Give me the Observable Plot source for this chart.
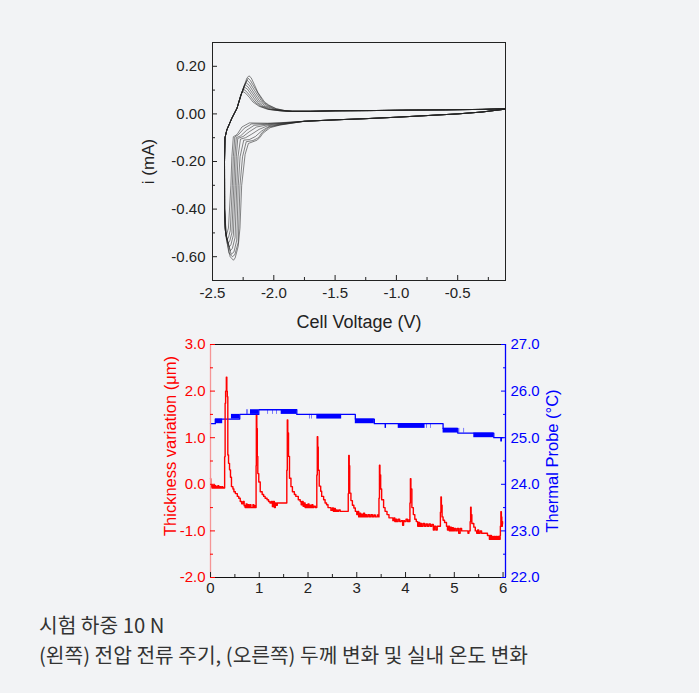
<!DOCTYPE html>
<html>
<head>
<meta charset="utf-8">
<script src="https://cdn.jsdelivr.net/npm/d3@7"></script>
<script src="https://cdn.jsdelivr.net/npm/@observablehq/plot@0.6"></script>
<style>
  html, body { margin: 0; padding: 0; background: #ffffff; }
  #page { position: relative; width: 699px; height: 693px; background: #f2f3f5; overflow: hidden; }
  #cv, #thick { position: absolute; left: 0; }
  #cv { top: 0; }
  #thick { top: 250px; }
  #caption { position: absolute; left: 39px; top: 609px; font-family: "Noto Sans CJK KR", "Noto Sans", sans-serif; font-size: 20.3px; line-height: 30px; color: #333; }
</style>
</head>
<body>
<div id="page">
  <div id="cv"></div>
  <div id="thick"></div>
  <div id="caption"><div>시험 하중 10 N</div><div>(왼쪽) 전압 전류 주기, (오른쪽) 두께 변화 및 실내 온도 변화</div></div>
</div>
<script>
// ---------------- Top panel: cyclic voltammetry (V, mA) ----------------
const cvXTicks = [-2.5, -2.0, -1.5, -1.0, -0.5];
const cvXMinor = [-2.25, -1.75, -1.25, -0.75, -0.25];
const cvYTicks = [0.2, 0.0, -0.2, -0.4, -0.6];
const cvYMinor = [0.1, -0.1, -0.3, -0.5];

// shared right-hand branches
const cvLowerRight = [[-0.11,0.02],[-0.3,0.008],[-0.5,0.0],[-0.75,-0.007],[-1.0,-0.014],[-1.25,-0.02],[-1.5,-0.025],[-1.75,-0.031]];
const cvUpperRight = [[-1.85,0.011],[-1.7,0.011],[-1.5,0.013],[-1.2,0.014],[-0.9,0.016],[-0.6,0.017],[-0.3,0.019],[-0.11,0.022]];
const cvReturn = [[-2.401,-0.40],[-2.402,-0.2],[-2.398,-0.1],[-2.383,-0.067],[-2.342,-0.018],[-2.30,0.024]];

// cathodic part of each cycle (inner -> outer)
const cvDown = [
  [[-1.95,-0.037],[-2.05,-0.039],[-2.2,-0.038],[-2.26,-0.055],[-2.30,-0.087],[-2.33,-0.096],[-2.342,-0.18],[-2.35,-0.3],[-2.37,-0.48],[-2.39,-0.515],[-2.40,-0.46]],
  [[-1.95,-0.038],[-2.05,-0.041],[-2.18,-0.042],[-2.24,-0.06],[-2.29,-0.088],[-2.318,-0.097],[-2.33,-0.18],[-2.338,-0.3],[-2.355,-0.49],[-2.37,-0.52],[-2.385,-0.53],[-2.40,-0.47]],
  [[-1.95,-0.04],[-2.05,-0.043],[-2.16,-0.048],[-2.22,-0.068],[-2.27,-0.092],[-2.306,-0.1],[-2.318,-0.18],[-2.326,-0.3],[-2.342,-0.5],[-2.36,-0.535],[-2.375,-0.545],[-2.398,-0.48]],
  [[-1.95,-0.041],[-2.05,-0.046],[-2.14,-0.055],[-2.2,-0.075],[-2.25,-0.095],[-2.294,-0.103],[-2.306,-0.18],[-2.314,-0.3],[-2.33,-0.51],[-2.35,-0.55],[-2.365,-0.56],[-2.396,-0.49]],
  [[-1.95,-0.043],[-2.05,-0.05],[-2.12,-0.065],[-2.18,-0.085],[-2.23,-0.1],[-2.272,-0.106],[-2.292,-0.18],[-2.302,-0.3],[-2.316,-0.52],[-2.338,-0.565],[-2.355,-0.575],[-2.393,-0.5]],
  [[-1.95,-0.045],[-2.04,-0.053],[-2.1,-0.072],[-2.15,-0.095],[-2.2,-0.108],[-2.245,-0.11],[-2.275,-0.18],[-2.29,-0.3],[-2.302,-0.53],[-2.325,-0.58],[-2.348,-0.59],[-2.39,-0.51]],
  [[-1.95,-0.046],[-2.04,-0.056],[-2.095,-0.078],[-2.125,-0.1],[-2.17,-0.112],[-2.225,-0.117],[-2.255,-0.18],[-2.276,-0.3],[-2.29,-0.54],[-2.318,-0.592],[-2.338,-0.60],[-2.366,-0.585],[-2.388,-0.52]],
  [[-1.95,-0.047],[-2.03,-0.058],[-2.09,-0.082],[-2.11,-0.097],[-2.135,-0.11],[-2.17,-0.117],[-2.207,-0.124],[-2.234,-0.17],[-2.262,-0.3],[-2.276,-0.48],[-2.29,-0.556],[-2.315,-0.605],[-2.329,-0.615],[-2.356,-0.6],[-2.385,-0.53]]
];
// anodic (stripping) peak of each cycle (inner -> outer)
const cvPeak = [
  [[-2.27,0.078],[-2.252,0.094],[-2.23,0.087],[-2.2,0.07],[-2.17,0.05],[-2.12,0.032],[-2.05,0.019],[-1.95,0.013]],
  [[-2.268,0.082],[-2.245,0.103],[-2.225,0.095],[-2.195,0.077],[-2.155,0.05],[-2.11,0.032],[-2.04,0.019],[-1.95,0.013]],
  [[-2.265,0.085],[-2.238,0.112],[-2.215,0.104],[-2.185,0.083],[-2.14,0.05],[-2.1,0.033],[-2.03,0.019],[-1.94,0.013]],
  [[-2.262,0.088],[-2.245,0.11],[-2.232,0.122],[-2.21,0.113],[-2.175,0.088],[-2.125,0.05],[-2.09,0.034],[-2.02,0.02],[-1.93,0.013]],
  [[-2.262,0.088],[-2.243,0.115],[-2.225,0.131],[-2.2,0.12],[-2.165,0.092],[-2.11,0.05],[-2.07,0.034],[-2.0,0.02],[-1.92,0.013]],
  [[-2.262,0.088],[-2.24,0.12],[-2.218,0.141],[-2.195,0.13],[-2.155,0.097],[-2.095,0.05],[-2.055,0.035],[-1.99,0.02],[-1.91,0.013]],
  [[-2.262,0.088],[-2.238,0.122],[-2.21,0.15],[-2.19,0.14],[-2.15,0.105],[-2.085,0.05],[-2.045,0.036],[-1.98,0.021],[-1.9,0.013]],
  [[-2.262,0.088],[-2.24,0.12],[-2.22,0.15],[-2.203,0.16],[-2.185,0.152],[-2.16,0.125],[-2.13,0.09],[-2.075,0.05],[-2.04,0.037],[-1.98,0.022],[-1.9,0.013]]
];

const cvRows = [];
cvDown.forEach((down, k) => {
  [...cvLowerRight, ...down, ...cvReturn, ...cvPeak[k], ...cvUpperRight]
    .forEach(([v, i]) => cvRows.push({cycle: k, v, i}));
});

const font = "'Liberation Sans', Arial, Helvetica, sans-serif";

const cv = Plot.plot({
  width: 699, height: 340,
  marginLeft: 212, marginRight: 194, marginTop: 42, marginBottom: 60,
  style: {background: "transparent", fontFamily: font, fontSize: "15px", color: "#222"},
  x: {domain: [-2.5, -0.11]},
  y: {domain: [-0.7, 0.3]},
  marks: [
    Plot.line(cvRows, {x: "v", y: "i", z: "cycle", stroke: "#222", strokeWidth: 0.55}),
    Plot.frame({stroke: "#222", strokeWidth: 1}),
    Plot.axisY(cvYTicks, {anchor: "left", tickSize: -5, tickPadding: 12, tickFormat: d => d.toFixed(2), label: null}),
    Plot.axisY(cvYMinor, {anchor: "left", tickSize: -3, fill: "none", label: null}),
    Plot.axisX(cvXTicks, {anchor: "bottom", tickSize: -5, tickPadding: 12, tickFormat: d => d.toFixed(1), label: null}),
    Plot.axisX(cvXMinor, {anchor: "bottom", tickSize: -3, fill: "none", label: null}),
    Plot.text(["i (mA)"], {text: d => d, frameAnchor: "left", textAnchor: "middle", lineAnchor: "middle", rotate: -90, dx: -64, fontSize: 17, fill: "#222"}),
    Plot.text(["Cell Voltage (V)"], {text: d => d, frameAnchor: "bottom", textAnchor: "middle", lineAnchor: "middle", dy: 42, fontSize: 18, fill: "#222"})
  ]
});
document.getElementById("cv").appendChild(cv);

// ---------------- Bottom panel: thickness (µm) and temperature (°C) vs time ----------------
const tXTicks = [0, 1, 2, 3, 4, 5, 6];
const tXMinor = [0.5, 1.5, 2.5, 3.5, 4.5, 5.5];
const thickTicks = [3, 2, 1, 0, -1, -2];
const thickMinor = [2.5, 1.5, 0.5, -0.5, -1.5];
const tempTicks = [27, 26, 25, 24, 23, 22];
const tempMinor = [26.5, 25.5, 24.5, 23.5, 22.5];

const thickT = [0.00,0.005,0.02,0.03,0.04,0.05,0.06,0.07,0.08,0.09,0.10,0.11,0.12,0.14,0.15,0.17,0.19,0.21,0.23,0.25,0.27,0.285,
  0.29,0.30,0.31,0.325,0.335,0.345,0.355,0.37,0.39,0.41,0.43,0.46,0.48,0.51,0.55,0.58,0.61,0.64,0.67,0.69,0.71,0.73,0.75,0.77,0.79,0.81,0.83,0.85,0.87,0.89,0.91,0.925,
  0.935,0.94,0.95,0.96,0.97,0.99,1.02,1.06,1.09,1.12,1.16,1.19,1.22,1.25,1.27,1.29,1.31,1.33,1.35,1.37,1.40,1.45,1.50,1.55,
  1.565,1.575,1.585,1.60,1.62,1.65,1.68,1.72,1.75,1.80,1.84,1.86,1.88,1.90,1.92,1.94,1.96,1.98,2.00,2.02,2.04,2.06,2.08,2.10,2.12,2.15,2.17,
  2.18,2.19,2.20,2.21,2.23,2.26,2.28,2.32,2.35,2.38,2.41,2.44,2.47,2.50,2.52,2.54,2.56,2.58,2.60,2.63,2.66,2.70,2.75,2.80,2.82,
  2.825,2.835,2.845,2.855,2.88,2.91,2.94,2.97,3.00,3.02,3.04,3.06,3.08,3.10,3.12,3.14,3.16,3.18,3.20,3.23,3.26,3.29,3.32,3.35,3.38,3.42,3.45,
  3.455,3.465,3.475,3.49,3.51,3.55,3.58,3.62,3.66,3.70,3.74,3.76,3.78,3.80,3.82,3.85,3.88,3.91,3.94,3.96,3.98,4.01,4.04,4.07,4.085,
  4.09,4.10,4.11,4.13,4.16,4.19,4.22,4.25,4.27,4.29,4.31,4.33,4.36,4.39,4.42,4.45,4.48,4.51,4.54,4.57,4.59,4.62,4.65,4.68,4.71,
  4.715,4.725,4.735,4.75,4.77,4.80,4.84,4.86,4.88,4.90,4.92,4.94,4.96,4.98,5.00,5.03,5.06,5.09,5.12,5.15,5.18,5.22,5.25,5.28,5.30,5.32,
  5.325,5.335,5.345,5.36,5.40,5.43,5.46,5.48,5.50,5.53,5.56,5.60,5.64,5.68,5.72,5.74,5.76,5.78,5.80,5.82,5.84,5.86,5.88,5.90,5.92,5.94,
  5.945,5.955,5.965,5.975,5.985,5.99];
const thickV = [0.12,-0.05,-0.02,-0.08,-0.02,-0.08,-0.03,-0.08,-0.02,-0.08,-0.03,-0.08,-0.05,-0.08,-0.03,-0.08,-0.05,-0.08,-0.05,-0.08,-0.07,-0.08,
  0.59,1.74,2.0,2.30,2.0,1.88,0.63,0.45,0.31,0.15,-0.05,-0.1,-0.16,-0.2,-0.26,-0.3,-0.37,-0.42,-0.37,-0.46,-0.5,-0.42,-0.5,-0.44,-0.5,-0.44,-0.5,-0.5,-0.44,-0.5,-0.46,-0.5,
  0.4,1.48,1.2,0.6,0.23,0.05,-0.16,-0.22,-0.26,-0.3,-0.33,-0.37,-0.4,-0.37,-0.48,-0.37,-0.5,-0.4,-0.45,-0.4,-0.4,-0.4,-0.4,-0.4,
  0.3,1.38,1.1,0.6,0.13,-0.05,-0.16,-0.22,-0.26,-0.33,-0.37,-0.44,-0.37,-0.47,-0.4,-0.5,-0.44,-0.5,-0.42,-0.5,-0.45,-0.5,-0.44,-0.5,-0.47,-0.5,-0.5,
  0.2,1.02,0.8,0.3,-0.04,-0.15,-0.26,-0.33,-0.4,-0.44,-0.5,-0.5,-0.56,-0.51,-0.58,-0.52,-0.58,-0.55,-0.58,-0.55,-0.58,-0.58,-0.58,-0.58,-0.58,
  -0.2,0.62,0.4,-0.19,-0.35,-0.45,-0.51,-0.58,-0.65,-0.58,-0.7,-0.62,-0.7,-0.64,-0.7,-0.62,-0.7,-0.65,-0.7,-0.65,-0.7,-0.65,-0.7,-0.66,-0.7,-0.66,-0.7,
  -0.3,0.41,0.2,-0.1,-0.33,-0.5,-0.58,-0.65,-0.72,-0.72,-0.78,-0.72,-0.8,-0.75,-0.8,-0.75,-0.8,-0.78,-0.88,-0.78,-0.8,-0.75,-0.8,-0.76,-0.8,
  -0.4,0.12,-0.1,-0.5,-0.65,-0.75,-0.8,-0.9,-0.82,-0.9,-0.84,-0.9,-0.84,-0.9,-0.85,-0.9,-0.85,-0.9,-0.86,-0.98,-0.9,-0.98,-0.9,-0.9,-0.9,
  -0.6,-0.27,-0.45,-0.7,-0.77,-0.82,-0.9,-0.98,-0.9,-1.0,-0.92,-1.0,-0.93,-1.0,-0.95,-1.0,-0.95,-1.05,-0.95,-1.0,-1.0,-1.0,-1.0,-1.05,-1.0,-1.0,
  -0.8,-0.49,-0.65,-0.84,-0.92,-1.0,-1.05,-0.98,-1.05,-1.0,-1.05,-1.05,-1.05,-1.1,-1.18,-1.1,-1.18,-1.12,-1.18,-1.12,-1.18,-1.12,-1.18,-1.12,-1.18,-1.1,
  -0.9,-0.59,-0.7,-0.9,-0.8,-0.85];

// temperature level line (step) and noise bands
const tempT = [0, 0.10, 0.60, 0.99, 1.77, 2.97, 3.36, 4.77, 5.07, 5.81, 5.955, 5.965, 6.0];
const tempV = [25.3, 25.4, 25.5, 25.6, 25.5, 25.4, 25.3, 25.2, 25.1, 25.0, 24.93, 25.0, 25.0];
const bandT1 = [0.10, 0.43, 0.74, 0.77, 0.82, 1.18, 1.28, 1.36, 1.45, 2.03, 2.08, 2.18, 2.97, 3.58, 3.85, 4.43, 4.52, 4.77, 5.10, 5.20, 5.40];
const bandT2 = [0.25, 0.60, 0.75, 0.78, 0.99, 1.19, 1.29, 1.37, 1.77, 2.04, 2.09, 2.69, 3.36, 3.61, 4.40, 4.44, 4.53, 5.07, 5.11, 5.21, 5.81];
const bandLo = [25.3, 25.4, 25.5, 25.5, 25.5, 25.5, 25.5, 25.5, 25.5, 25.4, 25.4, 25.4, 25.3, 25.2, 25.2, 25.2, 25.2, 25.1, 25.1, 25.1, 25.0];
const bandHi = [25.4, 25.5, 25.6, 25.6, 25.6, 25.6, 25.6, 25.6, 25.6, 25.5, 25.5, 25.5, 25.4, 25.3, 25.3, 25.3, 25.3, 25.2, 25.2, 25.2, 25.1];

const tempOffset = 24; // right axis 22–27 °C sits on the left axis −2–3 µm
const thickRows = thickT.map((t, j) => ({t, v: thickV[j]}));
const tempRows = tempT.map((t, j) => ({t, T: tempV[j]}));
const bandRows = bandT1.map((t1, j) => ({t1, t2: bandT2[j], lo: bandLo[j], hi: bandHi[j]}));

const th = Plot.plot({
  width: 699, height: 350,
  marginLeft: 210, marginRight: 194, marginTop: 94, marginBottom: 23,
  style: {background: "transparent", fontFamily: font, fontSize: "15px", color: "#222"},
  x: {domain: [0, 6.05]},
  y: {domain: [-2, 3]},
  marks: [
    Plot.rect(bandRows, {x1: "t1", x2: "t2", y1: d => d.lo - tempOffset, y2: d => d.hi - tempOffset, fill: "#0000ff"}),
    Plot.line(tempRows, {x: "t", y: d => d.T - tempOffset, curve: "step-after", stroke: "#0000ff", strokeWidth: 1.3}),
    Plot.line(thickRows, {x: "t", y: "v", curve: "step-after", stroke: "#ff0000", strokeWidth: 1.4}),
    Plot.ruleY([3], {stroke: "#111"}),
    Plot.ruleY([-2], {stroke: "#111"}),
    Plot.ruleX([0], {stroke: "#f59595", strokeWidth: 1.3}),
    Plot.ruleX([6.05], {stroke: "#0000ff", strokeWidth: 1.3}),
    Plot.axisY(thickTicks, {anchor: "left", tickSize: -5, tickPadding: 10, color: "#ff0000", tickFormat: d => d.toFixed(1), label: null}),
    Plot.axisY(thickMinor, {anchor: "left", tickSize: -3, stroke: "#ff0000", fill: "none", label: null}),
    Plot.axisY(tempTicks.map(d => d - tempOffset), {anchor: "right", tickSize: -5, tickPadding: 10, color: "#0000ff", tickFormat: d => (d + tempOffset).toFixed(1), label: null}),
    Plot.axisY(tempMinor.map(d => d - tempOffset), {anchor: "right", tickSize: -3, stroke: "#0000ff", fill: "none", label: null}),
    Plot.axisX(tXTicks, {anchor: "bottom", tickSize: -5, tickPadding: 10, tickFormat: d => String(d), label: null}),
    Plot.axisX(tXMinor, {anchor: "bottom", tickSize: -3, fill: "none", label: null}),
    Plot.text(["Thickness variation (μm)"], {text: d => d, frameAnchor: "left", textAnchor: "middle", lineAnchor: "middle", rotate: -90, dx: -40, dy: -15, fontSize: 16.5, fill: "#ff0000"}),
    Plot.text(["Thermal Probe (°C)"], {text: d => d, frameAnchor: "right", textAnchor: "middle", lineAnchor: "middle", rotate: -90, dx: 47, dy: 0, fontSize: 16.5, fill: "#0000ff"})
  ]
});
document.getElementById("thick").appendChild(th);
</script>
</body>
</html>
